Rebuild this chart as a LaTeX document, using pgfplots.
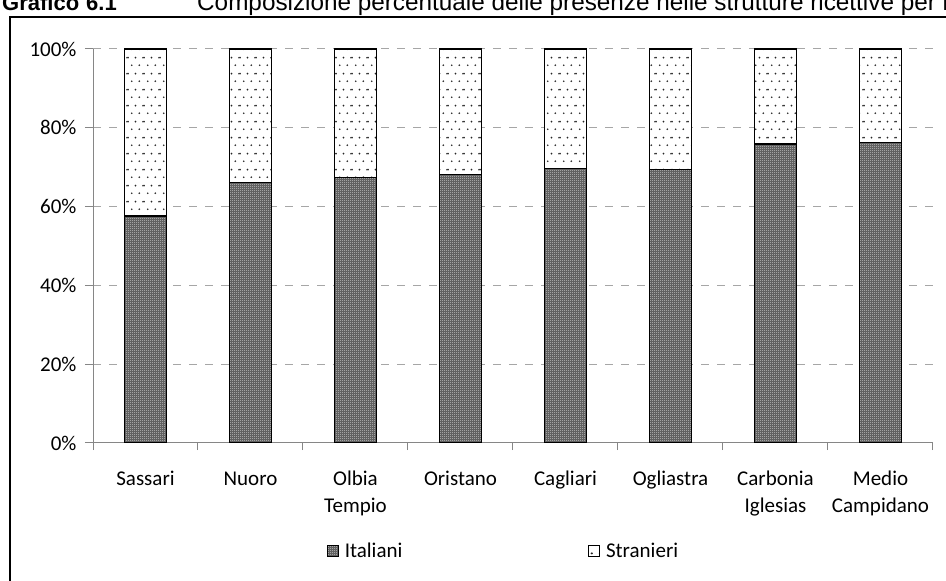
\documentclass[border=0pt]{standalone}
\usepackage{fontspec}
\setmainfont{Carlito}
\newfontfamily\arialfont{Liberation Sans}
\usepackage{pgfplots}
\pgfplotsset{compat=1.18}
\usetikzlibrary{patterns.meta}

% small light holes on a dark ground for the first series,
% sparse staggered dots for the second
\tikzdeclarepattern{
  name=fineHoles, type=uncolored,
  bounding box={(0pt,0pt) and (2pt,2pt)},
  tile size={(2pt,2pt)},
  code={\fill (0pt,0pt) rectangle (1pt,1pt);}
}
\tikzdeclarepattern{
  name=sparseDots, type=uncolored,
  bounding box={(0pt,0pt) and (16pt,16pt)},
  tile size={(16pt,16pt)},
  code={\fill (4pt,4pt) circle (1pt); \fill (12pt,4pt) circle (1pt);
        \fill (0pt,12pt) circle (1pt); \fill (8pt,12pt) circle (1pt);
        \fill (16pt,12pt) circle (1pt);}
}

\definecolor{gridgray}{RGB}{166,166,166}
\definecolor{axisgray}{RGB}{134,134,134}

\pgfplotstableread{
idx italiani stranieri
0 57.6 42.4
1 66.1 33.9
2 67.4 32.6
3 68.2 31.8
4 69.7 30.3
5 69.4 30.6
6 75.9 24.1
7 76.3 23.7
}\presenze

\begin{document}
\begin{tikzpicture}
\useasboundingbox (0pt,0pt) rectangle (946pt,581pt);
\clip (0pt,0pt) rectangle (946pt,581pt);

% outer frame
\draw[line width=2pt] (10pt,-10pt) -- (10pt,564pt) -- (960pt,564pt);

% heading
\node[anchor=base west, inner sep=0pt, font=\arialfont\bfseries\fontsize{22}{26}\selectfont] at (2pt,570pt) {Grafico};
\node[anchor=base west, inner sep=0pt, font=\arialfont\bfseries\fontsize{22}{26}\selectfont] at (86pt,570pt) {6.1};
\node[anchor=base west, inner sep=0pt, font=\arialfont\fontsize{24.3}{28}\selectfont] at (197pt,570pt)
  {Composizione percentuale delle presenze nelle strutture ricettive per nazionalità e provincia};

\begin{axis}[
  at={(93pt,138pt)}, anchor=south west,
  scale only axis, width=840pt, height=394pt,
  xmin=-0.5, xmax=7.5, ymin=0, ymax=100,
  ybar stacked, bar width=42pt,
  axis x line*=bottom, axis y line*=left,
  axis line style={-, draw=axisgray, line width=1pt},
  xtick={0,...,7},
  xticklabels={
    {\strut Sassari\\\strut}, {\strut Nuoro\\\strut}, {\strut Olbia\\\strut Tempio},
    {\strut Oristano\\\strut}, {\strut Cagliari\\\strut}, {\strut Ogliastra\\\strut},
    {\strut Carbonia\\\strut Iglesias}, {\strut Medio\\\strut Campidano}},
  x tick style={draw=none},
  extra x ticks={-0.5,0.5,...,7.5},
  extra x tick labels={},
  extra x tick style={x tick style={draw=axisgray, line width=1pt}, major tick length=7pt, grid=none},
  ytick={0,20,...,100},
  yticklabel={\pgfmathprintnumber{\tick}\%},
  /pgf/number format/assume math mode=true,
  y tick style={draw=axisgray, line width=1pt},
  tick align=outside, major tick length=8pt,
  ymajorgrids,
  grid style={draw=gridgray, line width=1pt, dash pattern=on 8pt off 8pt},
  tick label style={font=\fontsize{21}{27}\selectfont},
  xticklabel style={align=center, anchor=north, yshift=-12pt},
  yticklabel style={xshift=-5pt},
  legend columns=2,
  legend style={draw=none, fill=none, at={(axis description cs:0.275,-0.274)}, anchor=west,
    font=\fontsize{21}{24}\selectfont, nodes={inner sep=2pt},
    /tikz/every odd column/.append style={column sep=4pt},
    /tikz/every even column/.append style={column sep=184pt}},
  legend image code/.code={\draw[#1, draw=black, line width=0.6pt] (0pt,-5.5pt) rectangle (11pt,5.5pt);},
]
\addplot[fill=black!62, draw=black, line width=1.4pt,
  postaction={pattern=fineHoles, pattern color=white}]
  table[x=idx, y=italiani] {\presenze};
\addplot[fill=white, draw=black, line width=1.4pt,
  postaction={pattern=sparseDots, pattern color=black!85}]
  table[x=idx, y=stranieri] {\presenze};
\legend{Italiani, Stranieri}
\end{axis}
\end{tikzpicture}
\end{document}
